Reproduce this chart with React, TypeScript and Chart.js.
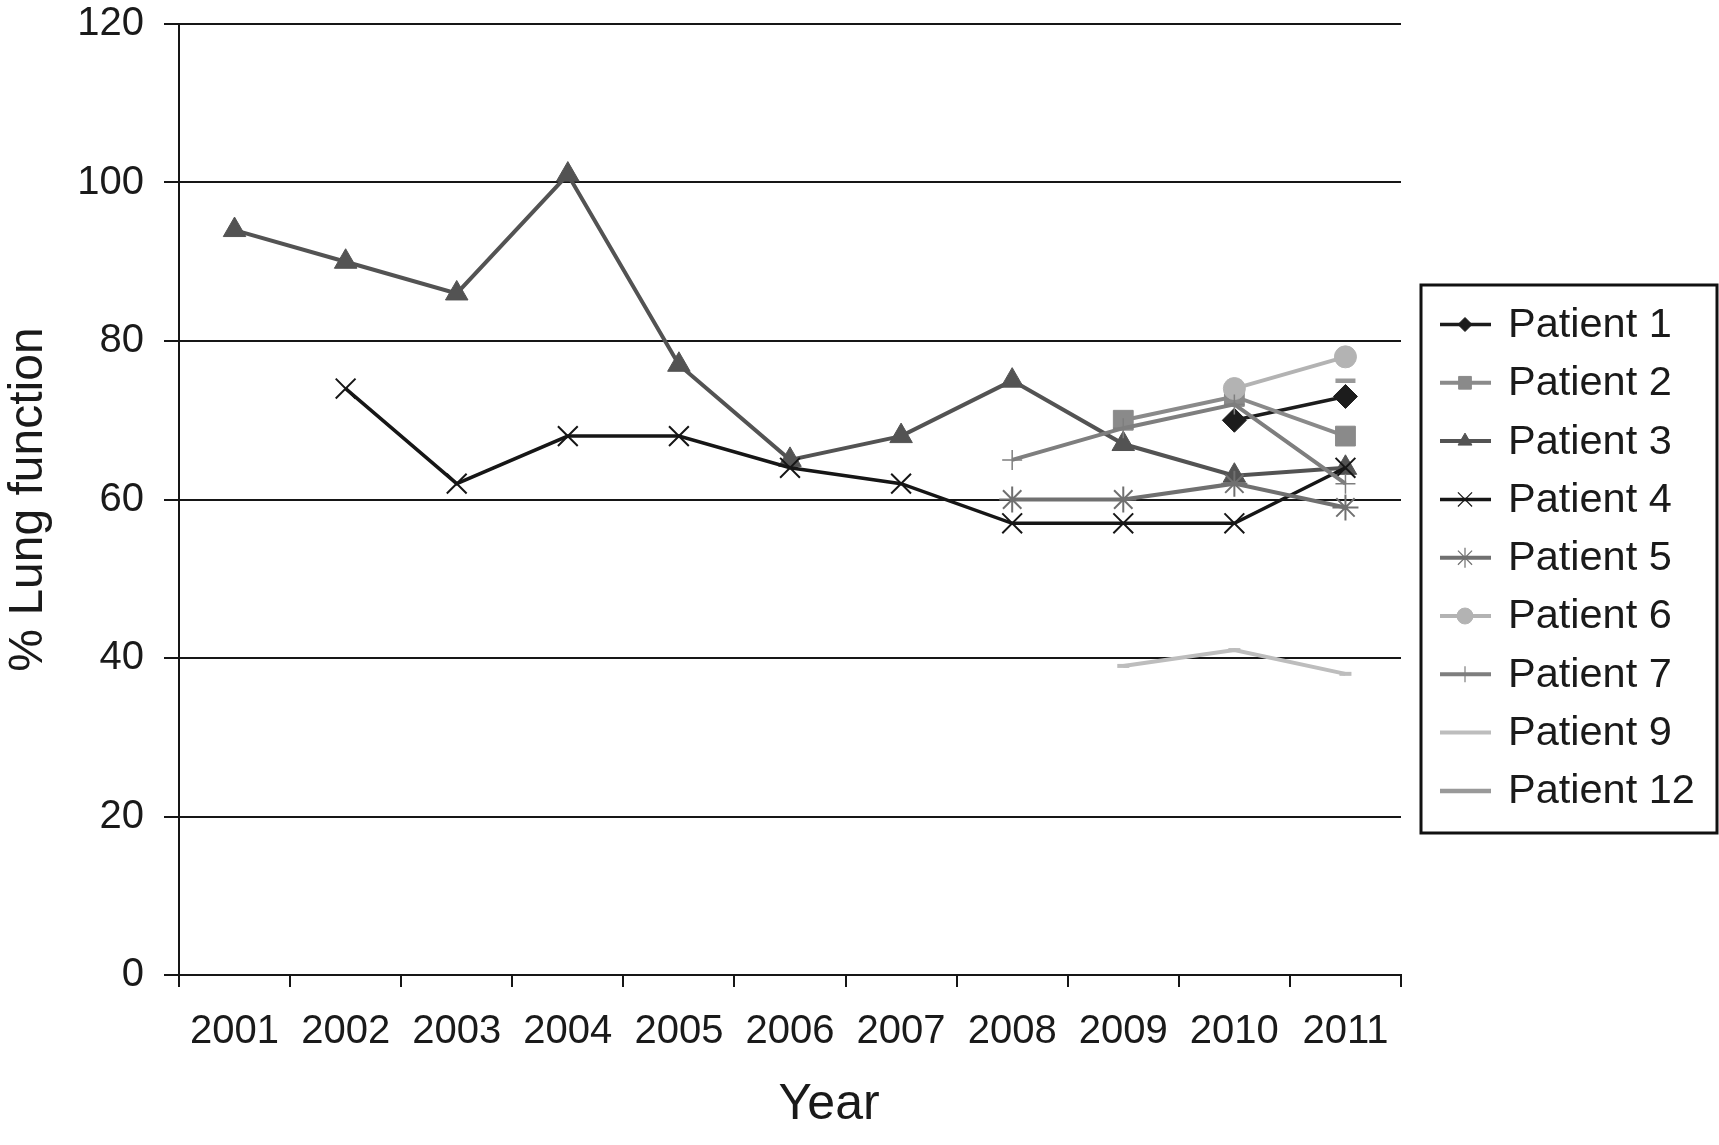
import React, { useEffect, useRef } from 'react';
import { Chart, registerables } from 'chart.js';
import { drawPoint } from 'chart.js/helpers';

Chart.register(...registerables);

const years = ['2001', '2002', '2003', '2004', '2005', '2006', '2007', '2008', '2009', '2010', '2011'];
const yMin = 0;
const yMax = 120;
const yStep = 20;
const xTitle = 'Year';
const yTitle = '% Lung function';

const seriesNames = ['Patient 1', 'Patient 2', 'Patient 3', 'Patient 4', 'Patient 5', 'Patient 6', 'Patient 7', 'Patient 9', 'Patient 12'];

const patient1 = [null, null, null, null, null, null, null, null, null, 70, 73];
const patient2 = [null, null, null, null, null, null, null, null, 70, 73, 68];
const patient3 = [94, 90, 86, 101, 77, 65, 68, 75, 67, 63, 64];
const patient4 = [null, 74, 62, 68, 68, 64, 62, 57, 57, 57, 64];
const patient5 = [null, null, null, null, null, null, null, 60, 60, 62, 59];
const patient6 = [null, null, null, null, null, null, null, null, null, 74, 78];
const patient7 = [null, null, null, null, null, null, null, 65, 69, 72, 62];
const patient9 = [null, null, null, null, null, null, null, null, 39, 41, 38];
const patient12 = [null, null, null, null, null, null, null, null, null, null, 75];

const seriesValues = [patient1, patient2, patient3, patient4, patient5, patient6, patient7, patient9, patient12];

const FONT = "'Liberation Sans', Arial, Helvetica, sans-serif";
const TEXT = '#1a1a1a';
const AXIS = '#161616';

type Style = {
  color: string;
  lineWidth: number;
  pointStyle: string;
  radius: number;
  pointBorderWidth: number;
  legendRadius: number;
  legendMarker: boolean;
  filled: boolean;
};

const styles: Style[] = [
  { color: '#1c1c1c', lineWidth: 3.5, pointStyle: 'rectRot', radius: 12, pointBorderWidth: 1, legendRadius: 7, legendMarker: true, filled: true },
  { color: '#8a8a8a', lineWidth: 4, pointStyle: 'rect', radius: 14, pointBorderWidth: 1, legendRadius: 9, legendMarker: true, filled: true },
  { color: '#535353', lineWidth: 4, pointStyle: 'triangle', radius: 13, pointBorderWidth: 1, legendRadius: 8, legendMarker: true, filled: true },
  { color: '#161616', lineWidth: 3.5, pointStyle: 'crossRot', radius: 14, pointBorderWidth: 2, legendRadius: 10, legendMarker: true, filled: false },
  { color: '#707070', lineWidth: 4, pointStyle: 'star', radius: 13, pointBorderWidth: 2, legendRadius: 10, legendMarker: true, filled: false },
  { color: '#b3b3b3', lineWidth: 4, pointStyle: 'circle', radius: 11, pointBorderWidth: 1, legendRadius: 8, legendMarker: true, filled: true },
  { color: '#7e7e7e', lineWidth: 4, pointStyle: 'cross', radius: 10, pointBorderWidth: 1.5, legendRadius: 8, legendMarker: true, filled: false },
  { color: '#bdbdbd', lineWidth: 4, pointStyle: 'line', radius: 6, pointBorderWidth: 4, legendRadius: 0, legendMarker: false, filled: false },
  { color: '#999999', lineWidth: 4.5, pointStyle: 'line', radius: 10, pointBorderWidth: 4.5, legendRadius: 0, legendMarker: false, filled: false },
];

const legendPlugin = {
  id: 'boxLegend',
  afterDraw(chart: any) {
    const ctx = chart.ctx as CanvasRenderingContext2D;
    ctx.save();
    // x axis title
    const area = chart.chartArea;
    ctx.fillStyle = TEXT;
    ctx.font = `50px ${FONT}`;
    ctx.textAlign = 'center';
    ctx.textBaseline = 'middle';
    ctx.fillText(xTitle, area.left + (area.right - area.left) * 0.532, 1105);

    const x0 = 1421;
    const y0 = 285;
    const w = 296;
    const h = 548;
    ctx.lineWidth = 3;
    ctx.strokeStyle = '#111';
    ctx.strokeRect(x0, y0, w, h);
    chart.data.datasets.forEach((ds: any, i: number) => {
      const st = styles[i];
      const y = 324.5 + i * 58.3;
      ctx.strokeStyle = st.color;
      ctx.lineWidth = st.lineWidth;
      ctx.beginPath();
      ctx.moveTo(1440, y);
      ctx.lineTo(1491, y);
      ctx.stroke();
      if (st.legendMarker) {
        ctx.fillStyle = st.color;
        ctx.strokeStyle = st.color;
        ctx.lineWidth = st.filled ? 1 : 1.2;
        drawPoint(ctx, { pointStyle: st.pointStyle as any, radius: st.legendRadius, rotation: 0, borderWidth: ctx.lineWidth }, 1465, y);
      }
      ctx.fillStyle = TEXT;
      ctx.font = `41.5px ${FONT}`;
      ctx.textAlign = 'left';
      ctx.textBaseline = 'middle';
      ctx.fillText(ds.label, 1508, y + 1);
    });
    ctx.restore();
  },
};

export default function App() {
  const ref = useRef<HTMLCanvasElement | null>(null);

  useEffect(() => {
    document.body.style.margin = '0';
    const canvas = ref.current;
    if (!canvas) return;
    const n = seriesNames.length;
    const datasets = seriesNames.map((name, i) => {
      const st = styles[i];
      return {
        label: name,
        data: seriesValues[i],
        borderColor: st.color,
        backgroundColor: st.color,
        borderWidth: st.lineWidth,
        pointStyle: st.pointStyle,
        pointRadius: st.radius,
        pointHoverRadius: st.radius,
        pointBackgroundColor: st.color,
        pointBorderColor: st.color,
        pointBorderWidth: st.pointBorderWidth,
        tension: 0,
        fill: false,
        spanGaps: false,
        order: n - i,
      };
    });

    const chart = new Chart(canvas, {
      type: 'line',
      data: { labels: years, datasets: datasets as any },
      plugins: [legendPlugin],
      options: {
        animation: false,
        responsive: false,
        devicePixelRatio: 1,
        layout: { padding: { left: 0, top: 24, right: 318, bottom: 0 } },
        plugins: {
          legend: { display: false },
          tooltip: { enabled: false },
          title: { display: false },
        },
        scales: {
          x: {
            type: 'category',
            offset: true,
            afterFit: (scale: any) => {
              scale.height = 170;
              scale.paddingLeft = 0;
              scale.paddingRight = 0;
            },
            grid: {
              display: true,
              drawOnChartArea: false,
              drawTicks: true,
              tickLength: 12,
              offset: true,
              color: AXIS,
              lineWidth: 2,
            },
            border: { display: true, color: AXIS, width: 2 },
            ticks: {
              color: TEXT,
              font: { family: FONT, size: 40 },
              padding: 21,
              maxRotation: 0,
              autoSkip: false,
            },
            title: { display: false, text: xTitle },
          },
          y: {
            min: yMin,
            max: yMax,
            afterFit: (scale: any) => {
              scale.width = 179;
              scale.paddingTop = 0;
              scale.paddingBottom = 0;
            },
            ticks: {
              stepSize: yStep,
              color: TEXT,
              font: { family: FONT, size: 40 },
              padding: 20,
            },
            grid: {
              color: AXIS,
              lineWidth: 2,
              tickLength: 15,
              drawTicks: true,
            },
            border: { display: true, color: AXIS, width: 2 },
            title: {
              display: true,
              text: yTitle,
              color: TEXT,
              font: { family: FONT, size: 48 },
              padding: { top: 0, bottom: 0 },
            },
          },
        },
      },
    });
    return () => chart.destroy();
  }, []);

  return (
    <div style={{ width: 1719, height: 1145 }}>
      <canvas ref={ref} width={1719} height={1145} style={{ display: 'block' }} />
    </div>
  );
}
